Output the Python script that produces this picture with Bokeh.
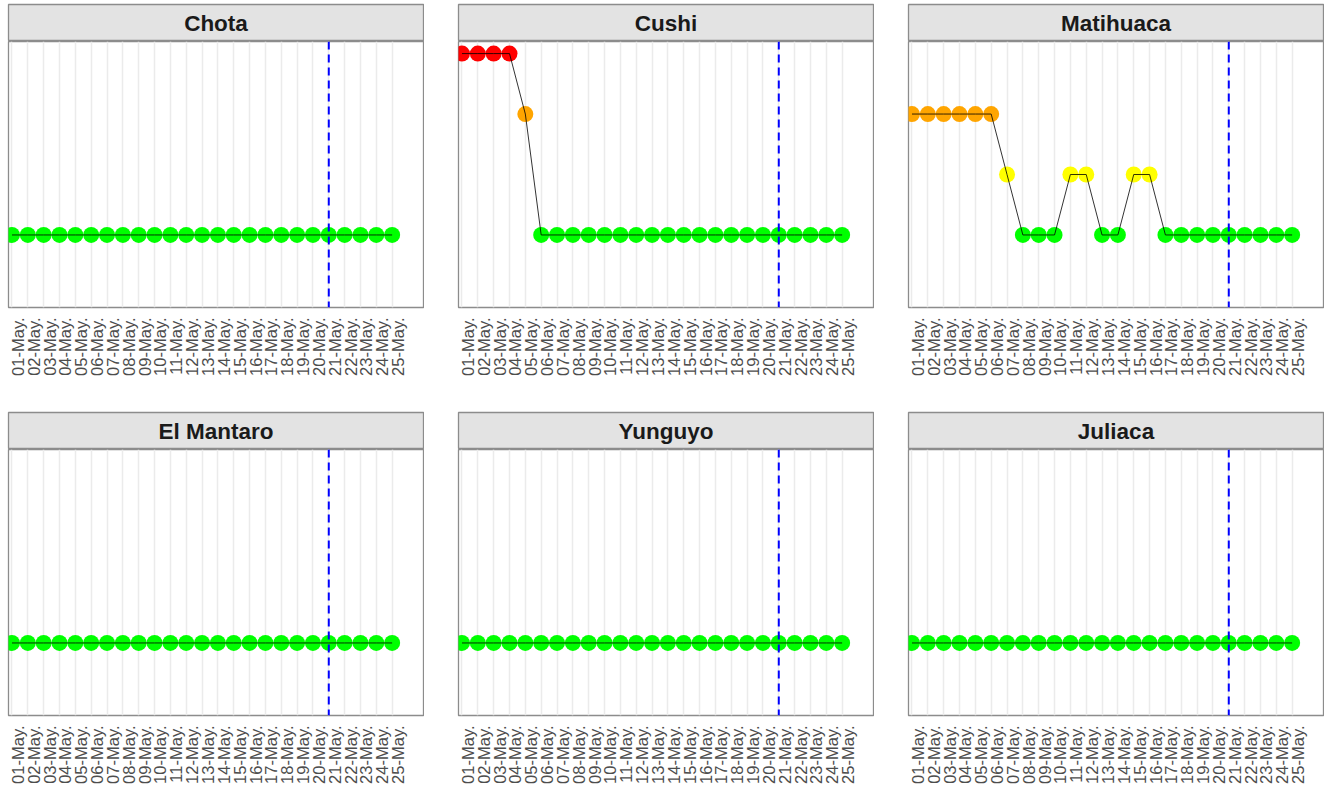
import math
from bokeh.plotting import figure
from bokeh.models import FixedTicker, Span, Grid, ColumnDataSource, Range1d, Spacer
from bokeh.layouts import column, row
from bokeh.embed import file_html
from bokeh.resources import INLINE
from bokeh.core.properties import value

# ---------------- data ----------------
day_labels = ["01-May.", "02-May.", "03-May.", "04-May.", "05-May.", "06-May.", "07-May.",
              "08-May.", "09-May.", "10-May.", "11-May.", "12-May.", "13-May.", "14-May.",
              "15-May.", "16-May.", "17-May.", "18-May.", "19-May.", "20-May.", "21-May.",
              "22-May.", "23-May.", "24-May.", "25-May."]
day_index = [1, 2, 3, 4, 5, 6, 7, 8, 9, 10, 11, 12, 13, 14, 15, 16, 17, 18, 19, 20, 21, 22, 23, 24, 25]

stations = ["Chota", "Cushi", "Matihuaca", "El Mantaro", "Yunguyo", "Juliaca"]

chota      = [1, 1, 1, 1, 1, 1, 1, 1, 1, 1, 1, 1, 1, 1, 1, 1, 1, 1, 1, 1, 1, 1, 1, 1, 1]
cushi      = [4, 4, 4, 4, 3, 1, 1, 1, 1, 1, 1, 1, 1, 1, 1, 1, 1, 1, 1, 1, 1, 1, 1, 1, 1]
matihuaca  = [3, 3, 3, 3, 3, 3, 2, 1, 1, 1, 2, 2, 1, 1, 2, 2, 1, 1, 1, 1, 1, 1, 1, 1, 1]
el_mantaro = [1, 1, 1, 1, 1, 1, 1, 1, 1, 1, 1, 1, 1, 1, 1, 1, 1, 1, 1, 1, 1, 1, 1, 1, 1]
yunguyo    = [1, 1, 1, 1, 1, 1, 1, 1, 1, 1, 1, 1, 1, 1, 1, 1, 1, 1, 1, 1, 1, 1, 1, 1, 1]
juliaca    = [1, 1, 1, 1, 1, 1, 1, 1, 1, 1, 1, 1, 1, 1, 1, 1, 1, 1, 1, 1, 1, 1, 1, 1, 1]

station_levels = [chota, cushi, matihuaca, el_mantaro, yunguyo, juliaca]

level_colors = {1: "#00FF00", 2: "#FFFF00", 3: "#FFA500", 4: "#FF0000"}
forecast_day = 21

# ---------------- styling ----------------
FW = 415
STRIP_H = 37
PANEL_H = 266
AXIS_AREA = 75
BORDER = "#8C8C8C"
LABEL_OFFSET = 0.375


def make_strip(name):
    s = figure(frame_width=FW, frame_height=STRIP_H, x_range=Range1d(0, 1), y_range=Range1d(0, 1),
               toolbar_location=None, output_backend="svg",
               x_axis_location=None, y_axis_location=None,
               min_border_left=1, min_border_right=1, min_border_top=1, min_border_bottom=0)
    s.grid.visible = False
    s.background_fill_color = "#E3E3E3"
    s.border_fill_color = "white"
    s.outline_line_color = BORDER
    s.outline_line_width = 1.3
    s.text(x=[0.5], y=[0.5], text=[name], text_align="center", text_baseline="middle",
           text_font=value("Liberation Sans"), text_font_style="bold",
           text_font_size="22.5px", text_color="#1A1A1A")
    return s


def make_panel(levels):
    p = figure(frame_width=FW, frame_height=PANEL_H,
               x_range=Range1d(0.78, 26.98), y_range=Range1d(-0.2, 4.2),
               toolbar_location=None, output_backend="svg",
               y_axis_location=None,
               min_border_left=1, min_border_right=1, min_border_top=0,
               min_border_bottom=AXIS_AREA)
    p.grid.visible = False
    p.background_fill_color = "white"
    p.border_fill_color = "white"
    p.outline_line_color = BORDER
    p.outline_line_width = 1.3

    g = Grid(dimension=0, ticker=FixedTicker(ticks=day_index),
             grid_line_color="#EBEBEB", grid_line_width=1.5)
    p.add_layout(g)

    ax = p.xaxis[0]
    ax.ticker = FixedTicker(ticks=[d + LABEL_OFFSET for d in day_index])
    ax.major_label_overrides = {d + LABEL_OFFSET: lbl for d, lbl in zip(day_index, day_labels)}
    ax.major_label_orientation = math.pi / 2
    ax.major_label_text_font = "Liberation Sans"
    ax.major_label_text_font_size = "16.5px"
    ax.major_label_text_color = "#4D4D4D"
    ax.major_label_standoff = 10
    ax.major_tick_in = 0
    ax.major_tick_out = 0
    ax.minor_tick_in = 0
    ax.minor_tick_out = 0
    ax.major_tick_line_color = None
    ax.minor_tick_line_color = None
    ax.axis_line_color = None

    src = ColumnDataSource(dict(x=day_index, y=levels,
                                c=[level_colors[v] for v in levels]))
    p.scatter("x", "y", source=src, size=16, fill_color="c", line_color=None)
    p.line("x", "y", source=src, line_color="black", line_width=1, line_alpha=0.8)
    p.add_layout(Span(location=forecast_day, dimension="height", line_color="#0000FF",
                      line_dash="8 5", line_width=2))
    return p


cells = []
for name, lv in zip(stations, station_levels):
    cells.append(column(make_strip(name), make_panel(lv), spacing=0))

grid = column(row(cells[0], cells[1], cells[2], spacing=33),
              row(cells[3], cells[4], cells[5], spacing=33),
              spacing=29)

layout = column(Spacer(height=3),
                row(Spacer(width=7), grid, spacing=0),
                spacing=0)

open("out.html", "w").write(file_html(layout, INLINE))
